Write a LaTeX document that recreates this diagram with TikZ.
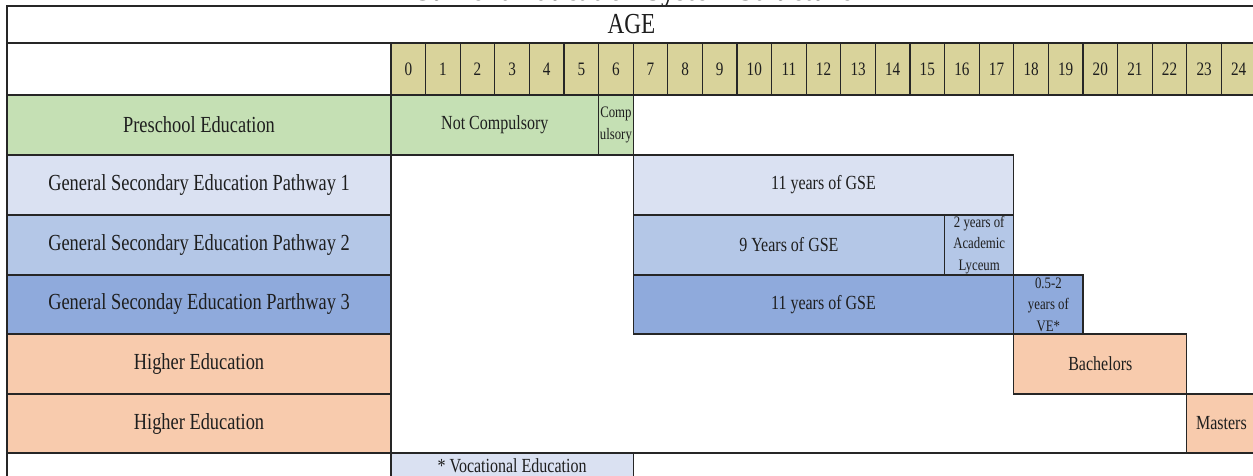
\documentclass[tikz,border=0pt]{standalone}
\usepackage{fontspec}
\setmainfont{Liberation Serif}
\usetikzlibrary{positioning}
\definecolor{ageC}{RGB}{217,211,155}
\definecolor{preC}{RGB}{197,224,180}
\definecolor{gseA}{RGB}{218,225,242}
\definecolor{gseB}{RGB}{180,199,231}
\definecolor{gseC}{RGB}{143,170,220}
\definecolor{higherC}{RGB}{248,203,173}
\definecolor{lineC}{RGB}{38,38,38}
\definecolor{textC}{RGB}{30,30,30}
\tikzset{
  grid/.style      = {draw=lineC, line width=1.3pt},
  txt/.style       = {text=textC, xscale=0.8, inner sep=0pt, align=center},
  rowlabel/.style  = {txt, font=\fontsize{23}{26}\selectfont},
  celltext/.style  = {txt, font=\fontsize{20}{23}\selectfont},
  smalltext/.style = {txt, font=\fontsize{16}{21.5}\selectfont},
  agenum/.style    = {txt, font=\fontsize{19}{22}\selectfont},
  headtext/.style  = {txt, font=\fontsize{29}{31}\selectfont}
}
% x1, y1, x2, y2, fill, node name, text style, text
\newcommand{\tcell}[8]{%
  \filldraw[grid, fill=#5] ({#1},{#2}) rectangle ({#3},{#4});
  \node[#7] (#6) at ({(#1+#3)/2},{(#2+#4)/2}) {#8};
}

\begin{document}
\begin{tikzpicture}[x=1pt, y=-1pt]
  \useasboundingbox (0,0) rectangle (1253,476);
  \fill[white] (0,0) rectangle (1253,476);
  \clip (0,0) rectangle (1253,476);

  %% ── Title (cut off at the top) ────────────────────────────────
  \node[text=textC, xscale=0.8, anchor=base, inner sep=0pt,
        font=\bfseries\fontsize{35}{38}\selectfont] (title) at (632,1)
    {Current Education System Structure};

  %% ── Header rows ───────────────────────────────────────────────
  \tcell{7}{6}{1256}{43}{white}{age}{headtext}{AGE}
  \tcell{7}{43}{391}{95}{white}{corner}{txt}{}
  \foreach \a in {0,...,24}{
    \tcell{391+34.6*\a}{43}{391+34.6*(\a+1)}{95}{ageC}{age\a}{agenum}{\a}
  }

  %% ── Row labels ────────────────────────────────────────────────
  \tcell{7}{95}{391}{155}{preC}{pre}{rowlabel}{Preschool Education}
  \tcell{7}{155}{391}{215}{gseA}{gse1}{rowlabel}{General Secondary Education Pathway 1}
  \tcell{7}{215}{391}{275}{gseB}{gse2}{rowlabel}{General Secondary Education Pathway 2}
  \tcell{7}{275}{391}{334}{gseC}{gse3}{rowlabel}{General Seconday Education Parthway 3}
  \tcell{7}{334}{391}{394}{higherC}{hi1}{rowlabel}{Higher Education}
  \tcell{7}{394}{391}{453}{higherC}{hi2}{rowlabel}{Higher Education}
  \tcell{7}{453}{391}{480}{white}{note}{txt}{}

  %% ── Preschool ─────────────────────────────────────────────────
  \tcell{391}{95}{598.6}{155}{preC}{notcomp}{celltext}{Not Compulsory}
  \tcell{598.6}{95}{633.2}{155}{preC}{comp}{smalltext}{Comp\\ulsory}

  %% ── General secondary education ───────────────────────────────
  \tcell{633.2}{155}{1013.8}{215}{gseA}{gseA11}{celltext}{11 years of GSE}
  \tcell{633.2}{215}{944.6}{275}{gseB}{gseB9}{celltext}{9 Years of GSE}
  \tcell{944.6}{215}{1013.8}{275}{gseB}{lyceum}{smalltext}{2 years of\\Academic\\Lyceum}
  \tcell{633.2}{275}{1013.8}{334}{gseC}{gseC11}{celltext}{11 years of GSE}
  \tcell{1013.8}{275}{1083}{334}{gseC}{ve}{smalltext}{0.5-2\\years of\\VE*}

  %% ── Higher education ──────────────────────────────────────────
  \tcell{1013.8}{334}{1186.8}{394}{higherC}{bach}{celltext}{Bachelors}
  \tcell{1186.8}{394}{1256}{453}{higherC}{mast}{celltext}{Masters}

  %% ── Footnote row ──────────────────────────────────────────────
  \tcell{391}{453}{633.2}{480}{gseA}{voc}{celltext}{}
  \node[celltext] (vocText) at (512,466) {* Vocational Education};
  \tcell{633.2}{453}{1256}{480}{white}{blank}{txt}{}

\end{tikzpicture}
\end{document}
